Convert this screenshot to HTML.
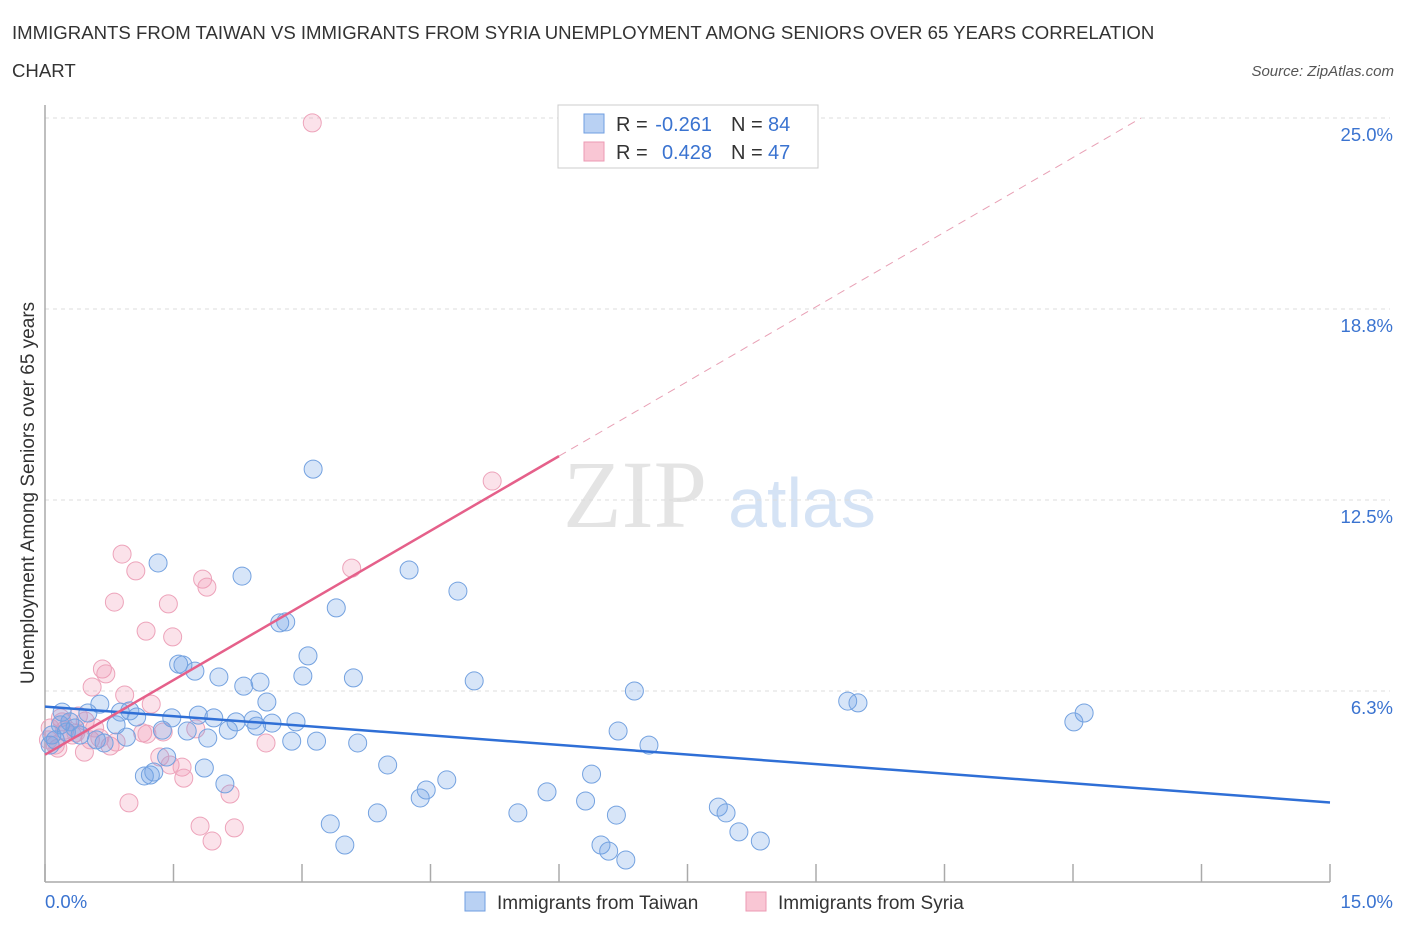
<!DOCTYPE html>
<html><head><meta charset="utf-8"><style>
body{margin:0;background:#fff;font-family:"Liberation Sans",sans-serif;}
</style></head><body>
<svg id="chart" width="1406" height="930" xmlns="http://www.w3.org/2000/svg" font-family="Liberation Sans, sans-serif">
<text x="12" y="39" font-size="18.6" fill="#333">IMMIGRANTS FROM TAIWAN VS IMMIGRANTS FROM SYRIA UNEMPLOYMENT AMONG SENIORS OVER 65 YEARS CORRELATION</text>
<text x="12" y="77" font-size="18.6" fill="#333">CHART</text>
<text x="1394" y="76" font-size="15" fill="#555" text-anchor="end" font-style="italic">Source: ZipAtlas.com</text>
<g>
<text x="635" y="527" font-size="96" fill="#e4e4e4" font-family="Liberation Serif, serif" text-anchor="middle">ZIP</text>
<text x="802" y="527" font-size="70" fill="#d5e3f5" text-anchor="middle">atlas</text>
</g>
<g id="grid"></g>
<g id="axes"></g>
<g id="marks"></g>
<g>
<rect x="558" y="105" width="260" height="63" fill="#fff" stroke="#ccc"/>
<rect x="584" y="114" width="20" height="19" fill="#b9d1f3" stroke="#6f9ee0"/>
<rect x="584" y="142" width="20" height="19" fill="#f9c6d4" stroke="#ec9ab3"/>
<text x="616" y="131" font-size="20" fill="#333">R =</text>
<text x="712" y="131" font-size="20" fill="#3a73d0" text-anchor="end">-0.261</text>
<text x="731" y="131" font-size="20" fill="#333">N =</text>
<text x="768" y="131" font-size="20" fill="#3a73d0">84</text>
<text x="616" y="159" font-size="20" fill="#333">R =</text>
<text x="712" y="159" font-size="20" fill="#3a73d0" text-anchor="end">0.428</text>
<text x="731" y="159" font-size="20" fill="#333">N =</text>
<text x="768" y="159" font-size="20" fill="#3a73d0">47</text>
</g>
<g>
<rect x="465" y="892" width="20" height="19" fill="#b9d1f3" stroke="#6f9ee0"/>
<text x="497" y="909" font-size="19" fill="#333">Immigrants from Taiwan</text>
<rect x="746" y="892" width="20" height="19" fill="#f9c6d4" stroke="#ec9ab3"/>
<text x="778" y="909" font-size="19" fill="#333">Immigrants from Syria</text>
</g>
<text transform="translate(34,493) rotate(-90)" font-size="19" fill="#333" text-anchor="middle">Unemployment Among Seniors over 65 years</text>
</svg>
<script>
const yTicks=[6.25,12.5,18.75,25];
const yTickLabels=["6.3%","12.5%","18.8%","25.0%"];
const xTicks=[0,1.5,3,4.5,6,7.5,9,10.5,12,13.5,15];
const xEndLabels=["0.0%","15.0%"];
const taiwanX=[3.13,1.32,2.30,4.25,4.82,3.40,2.74,2.81,3.07,1.56,1.61,1.75,2.03,2.32,2.51,3.01,3.60,5.01,6.88,9.37,9.49,12.13,12.01,2.59,0.20,0.50,0.64,0.88,0.99,1.07,1.48,1.79,1.97,2.23,2.43,2.65,2.93,0.83,1.37,1.66,2.14,2.47,1.90,0.95,0.60,0.69,2.88,3.17,3.65,6.69,7.05,1.42,1.86,4.00,1.16,1.23,1.27,2.10,4.45,4.69,6.38,4.38,5.86,6.31,7.86,7.95,3.33,3.88,5.52,6.67,8.10,8.35,3.50,6.49,6.58,6.78,0.12,0.06,0.18,0.29,0.35,0.41,0.25,0.08];
const taiwanY=[13.51,10.44,10.01,10.21,9.52,8.97,8.48,8.51,7.40,7.13,7.10,6.90,6.71,6.41,6.54,6.74,6.68,6.58,6.25,5.92,5.86,5.53,5.24,5.89,5.56,5.53,5.82,5.56,5.60,5.40,5.37,5.46,5.37,5.24,5.30,5.20,5.24,5.14,4.97,4.94,4.97,5.10,4.71,4.74,4.65,4.55,4.61,4.61,4.55,4.94,4.48,4.09,3.73,3.83,3.47,3.50,3.60,3.21,3.01,3.34,3.53,2.75,2.95,2.65,2.45,2.26,1.90,2.26,2.26,2.19,1.64,1.34,1.21,1.21,1.01,0.72,4.65,4.48,5.14,5.24,5.04,4.81,4.91,4.81];
const syriaX=[3.12,5.22,0.90,1.06,3.58,1.84,1.89,0.81,1.44,1.18,1.49,0.67,0.71,0.55,0.93,1.24,0.39,0.18,0.47,1.38,1.14,1.19,1.76,0.76,0.46,2.58,0.83,1.34,1.46,1.60,1.62,2.16,0.98,1.81,2.21,1.95,0.06,0.12,0.23,0.32,0.53,0.64,0.15,0.04,0.20,0.36,0.58];
const syriaY=[24.84,13.12,10.73,10.18,10.27,9.91,9.65,9.16,9.10,8.21,8.02,6.97,6.81,6.38,6.12,5.82,5.43,5.37,5.27,4.91,4.88,4.84,5.01,4.45,4.25,4.55,4.58,4.09,3.83,3.76,3.40,2.88,2.59,1.83,1.77,1.34,5.04,4.48,4.97,4.81,4.65,4.71,4.38,4.65,5.24,4.88,5.04];
const NS="http://www.w3.org/2000/svg";
const X0=45,X1=1330,Y0=882,Y1=118;
const xs=v=>X0+v/15*(X1-X0);
const ys=v=>Y0-v/25*(Y0-Y1);
function mk(tag,attrs,parent){const e=document.createElementNS(NS,tag);for(const k in attrs)e.setAttribute(k,attrs[k]);document.getElementById(parent).appendChild(e);return e;}
yTicks.forEach((t,i)=>{
 const l=mk('line',{x1:X0,x2:1390,y1:ys(t),y2:ys(t),stroke:'#ddd','stroke-dasharray':'4,4'},'grid');
 
 
 const tx=mk('text',{x:1393,y:ys(t)+23,'font-size':18.5,fill:'#3a73d0','text-anchor':'end'},'grid');
 tx.textContent=yTickLabels[i];
 
 
});
const ax=mk('line',{x1:X0,x2:X0,y1:105,y2:Y0,stroke:'#aaa','stroke-width':1.5},'axes');


const bx=mk('line',{x1:X0,x2:X1,y1:Y0,y2:Y0,stroke:'#aaa','stroke-width':1.5},'axes');


xTicks.forEach(t=>{
 const l=mk('line',{x1:xs(t),x2:xs(t),y1:Y0-18,y2:Y0,stroke:'#aaa','stroke-width':1.5},'axes');
 
 
});
const xl0=mk('text',{x:45,y:908,'font-size':18.5,fill:'#3a73d0'},'axes');xl0.textContent=xEndLabels[0];


const xl1=mk('text',{x:1393,y:908,'font-size':18.5,fill:'#3a73d0','text-anchor':'end'},'axes');xl1.textContent=xEndLabels[1];


function pts(X,Y,fill,stroke,name){X.forEach((x,i)=>{const c=mk('circle',{cx:xs(x),cy:ys(Y[i]),r:9,fill:fill,stroke:stroke,'stroke-width':1},'marks');
 
 });}
pts(syriaX,syriaY,'rgba(240,150,180,0.28)','#eda3ba','point-syria');
pts(taiwanX,taiwanY,'rgba(110,160,230,0.28)','#74a2e0','point-taiwan');
function fit(X,Y){const n=X.length;let mx=0,my=0;X.forEach((x,i)=>{mx+=x;my+=Y[i];});mx/=n;my/=n;let sxy=0,sxx=0;X.forEach((x,i)=>{sxy+=(x-mx)*(Y[i]-my);sxx+=(x-mx)**2;});const b=sxy/sxx;return [my-b*mx,b];}
const [ta,tb]=fit(taiwanX,taiwanY);
const tl=mk('line',{x1:xs(0),y1:ys(ta),x2:xs(15),y2:ys(ta+tb*15),stroke:'#2f6fd6','stroke-width':2.5},'marks');


const [sa,sb]=fit(syriaX,syriaY);
const solidEnd=6;
const sl=mk('line',{x1:xs(0),y1:ys(sa),x2:xs(solidEnd),y2:ys(sa+sb*solidEnd),stroke:'#e5608a','stroke-width':2.5},'marks');


const xe=Math.min(15,(25-sa)/sb);
const sd=mk('line',{x1:xs(solidEnd),y1:ys(sa+sb*solidEnd),x2:xs(xe),y2:ys(sa+sb*xe),stroke:'#e8a0b5','stroke-width':1,'stroke-dasharray':'8,6'},'marks');


</script>
</body></html>
